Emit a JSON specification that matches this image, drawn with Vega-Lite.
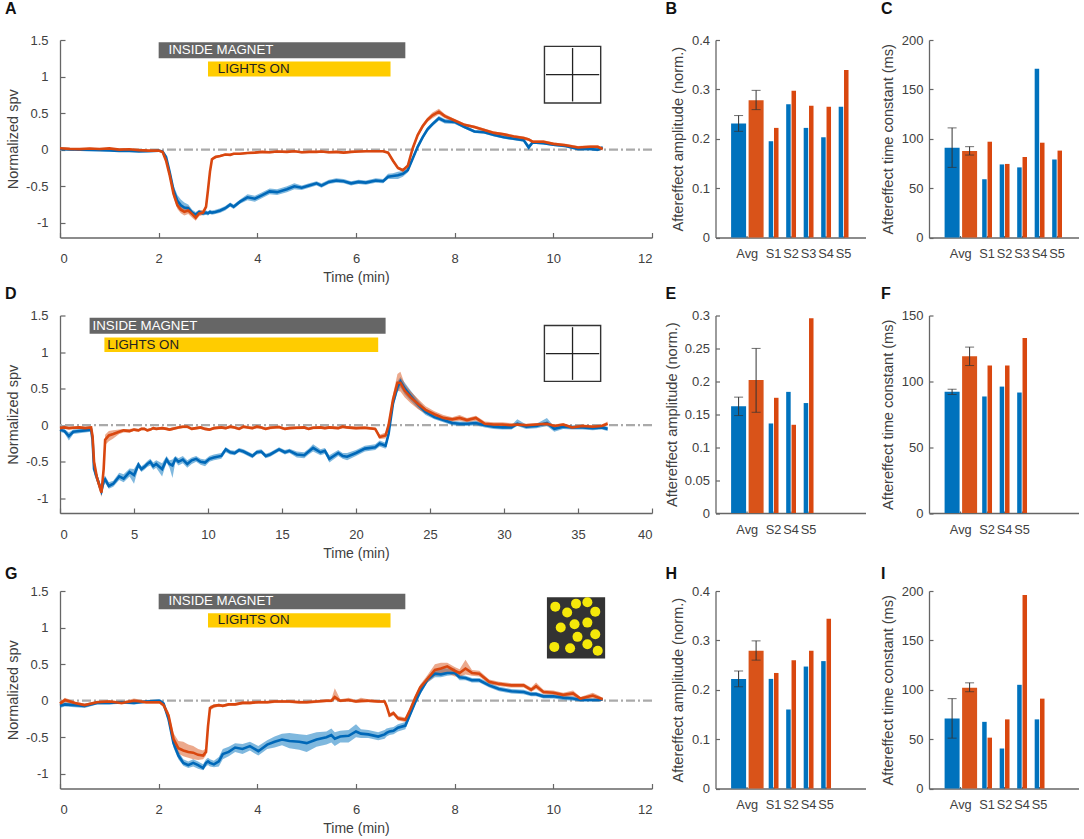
{"$schema":"https://vega.github.io/schema/vega-lite/v6.json","padding":{"left":5,"top":1,"right":0,"bottom":0},"bounds":"flush","columns":3,"spacing":{"row":77.5,"column":63.5},"config":{"font":"Liberation Sans","view":{"stroke":null},"axis":{"grid":false,"labelFont":"Liberation Sans","titleFont":"Liberation Sans","labelFontSize":13,"titleFontSize":14.5,"titleFontWeight":"normal","labelColor":"#404040","titleColor":"#404040","domainColor":"#666666","tickColor":"#666666","domainWidth":1.3,"tickWidth":1.2},"title":{"font":"Liberation Sans","fontWeight":"bold","fontSize":16,"anchor":"start","frame":"group","color":"#111111"}},
"datasets":{
"A":[{"t":0,"b":0.01,"bl":0,"bh":0.02,"r":0.02,"rl":0.01,"rh":0.03},{"t":0.2,"b":0.005,"bl":-0.005,"bh":0.015,"r":0.012,"rl":0.002,"rh":0.022},{"t":0.4,"b":0,"bl":-0.01,"bh":0.01,"r":0.008,"rl":-0.002,"rh":0.018},{"t":0.6,"b":-0.004,"bl":-0.014,"bh":0.006,"r":0.016,"rl":0.006,"rh":0.026},{"t":0.8,"b":-0.006,"bl":-0.016,"bh":0.004,"r":0.01,"rl":0,"rh":0.02},{"t":1,"b":-0.01,"bl":-0.02,"bh":0,"r":0.018,"rl":0.008,"rh":0.028},{"t":1.2,"b":-0.016,"bl":-0.026,"bh":-0.006,"r":0.001,"rl":-0.009,"rh":0.011},{"t":1.4,"b":-0.018,"bl":-0.028,"bh":-0.008,"r":0.006,"rl":-0.004,"rh":0.016},{"t":1.6,"b":-0.022,"bl":-0.032,"bh":-0.012,"r":-0.006,"rl":-0.016,"rh":0.004},{"t":1.8,"b":-0.02,"bl":-0.03,"bh":-0.01,"r":-0.012,"rl":-0.022,"rh":-0.002},{"t":2,"b":-0.012,"bl":-0.022,"bh":-0.002,"r":-0.01,"rl":-0.02,"rh":0},{"t":2.08,"b":-0.025,"bl":-0.04,"bh":-0.01,"r":-0.03,"rl":-0.045,"rh":-0.015},{"t":2.15,"b":-0.1,"bl":-0.13,"bh":-0.07,"r":-0.15,"rl":-0.18,"rh":-0.12},{"t":2.22,"b":-0.3,"bl":-0.35,"bh":-0.25,"r":-0.34,"rl":-0.38,"rh":-0.3},{"t":2.3,"b":-0.55,"bl":-0.61,"bh":-0.49,"r":-0.6,"rl":-0.65,"rh":-0.55},{"t":2.38,"b":-0.7,"bl":-0.77,"bh":-0.62,"r":-0.76,"rl":-0.81,"rh":-0.71},{"t":2.45,"b":-0.76,"bl":-0.83,"bh":-0.68,"r":-0.82,"rl":-0.87,"rh":-0.77},{"t":2.52,"b":-0.79,"bl":-0.85,"bh":-0.72,"r":-0.85,"rl":-0.9,"rh":-0.8},{"t":2.6,"b":-0.8,"bl":-0.85,"bh":-0.75,"r":-0.83,"rl":-0.88,"rh":-0.77},{"t":2.68,"b":-0.86,"bl":-0.9,"bh":-0.82,"r":-0.88,"rl":-0.93,"rh":-0.84},{"t":2.75,"b":-0.89,"bl":-0.92,"bh":-0.85,"r":-0.93,"rl":-0.97,"rh":-0.88},{"t":2.82,"b":-0.85,"bl":-0.88,"bh":-0.82,"r":-0.87,"rl":-0.91,"rh":-0.83},{"t":2.9,"b":-0.87,"bl":-0.9,"bh":-0.84,"r":-0.86,"rl":-0.89,"rh":-0.82},{"t":2.96,"b":-0.86,"bl":-0.89,"bh":-0.83,"r":-0.78,"rl":-0.81,"rh":-0.75},{"t":3,"b":-0.87,"bl":-0.9,"bh":-0.84,"r":-0.55,"rl":-0.58,"rh":-0.52},{"t":3.04,"b":-0.85,"bl":-0.88,"bh":-0.82,"r":-0.3,"rl":-0.33,"rh":-0.27},{"t":3.08,"b":-0.86,"bl":-0.89,"bh":-0.83,"r":-0.13,"rl":-0.15,"rh":-0.11},{"t":3.15,"b":-0.85,"bl":-0.88,"bh":-0.82,"r":-0.1,"rl":-0.12,"rh":-0.08},{"t":3.25,"b":-0.83,"bl":-0.86,"bh":-0.8,"r":-0.085,"rl":-0.1,"rh":-0.07},{"t":3.35,"b":-0.8,"bl":-0.83,"bh":-0.77,"r":-0.065,"rl":-0.08,"rh":-0.05},{"t":3.45,"b":-0.75,"bl":-0.78,"bh":-0.72,"r":-0.07,"rl":-0.085,"rh":-0.055},{"t":3.52,"b":-0.78,"bl":-0.81,"bh":-0.75,"r":-0.055,"rl":-0.07,"rh":-0.04},{"t":3.65,"b":-0.71,"bl":-0.74,"bh":-0.68,"r":-0.055,"rl":-0.07,"rh":-0.04},{"t":3.8,"b":-0.65,"bl":-0.69,"bh":-0.61,"r":-0.045,"rl":-0.06,"rh":-0.03},{"t":3.95,"b":-0.67,"bl":-0.71,"bh":-0.63,"r":-0.04,"rl":-0.055,"rh":-0.025},{"t":4.1,"b":-0.62,"bl":-0.66,"bh":-0.58,"r":-0.03,"rl":-0.045,"rh":-0.015},{"t":4.25,"b":-0.57,"bl":-0.61,"bh":-0.53,"r":-0.035,"rl":-0.05,"rh":-0.02},{"t":4.4,"b":-0.58,"bl":-0.62,"bh":-0.54,"r":-0.025,"rl":-0.04,"rh":-0.01},{"t":4.6,"b":-0.54,"bl":-0.58,"bh":-0.5,"r":-0.03,"rl":-0.045,"rh":-0.015},{"t":4.75,"b":-0.5,"bl":-0.54,"bh":-0.46,"r":-0.02,"rl":-0.035,"rh":-0.005},{"t":4.9,"b":-0.52,"bl":-0.55,"bh":-0.49,"r":-0.035,"rl":-0.05,"rh":-0.02},{"t":5.05,"b":-0.49,"bl":-0.52,"bh":-0.46,"r":-0.03,"rl":-0.045,"rh":-0.015},{"t":5.2,"b":-0.46,"bl":-0.49,"bh":-0.43,"r":-0.03,"rl":-0.045,"rh":-0.015},{"t":5.3,"b":-0.49,"bl":-0.52,"bh":-0.46,"r":-0.025,"rl":-0.04,"rh":-0.01},{"t":5.45,"b":-0.44,"bl":-0.47,"bh":-0.41,"r":-0.035,"rl":-0.05,"rh":-0.02},{"t":5.6,"b":-0.42,"bl":-0.45,"bh":-0.39,"r":-0.03,"rl":-0.045,"rh":-0.015},{"t":5.75,"b":-0.43,"bl":-0.46,"bh":-0.4,"r":-0.04,"rl":-0.055,"rh":-0.025},{"t":5.9,"b":-0.46,"bl":-0.49,"bh":-0.43,"r":-0.03,"rl":-0.045,"rh":-0.015},{"t":6.05,"b":-0.44,"bl":-0.47,"bh":-0.41,"r":-0.025,"rl":-0.04,"rh":-0.01},{"t":6.2,"b":-0.45,"bl":-0.48,"bh":-0.42,"r":-0.02,"rl":-0.035,"rh":-0.005},{"t":6.4,"b":-0.42,"bl":-0.45,"bh":-0.39,"r":-0.02,"rl":-0.035,"rh":-0.005},{"t":6.55,"b":-0.43,"bl":-0.46,"bh":-0.4,"r":-0.02,"rl":-0.035,"rh":-0.005},{"t":6.65,"b":-0.37,"bl":-0.4,"bh":-0.33,"r":-0.04,"rl":-0.055,"rh":-0.025},{"t":6.75,"b":-0.36,"bl":-0.4,"bh":-0.32,"r":-0.15,"rl":-0.17,"rh":-0.13},{"t":6.85,"b":-0.35,"bl":-0.4,"bh":-0.3,"r":-0.25,"rl":-0.27,"rh":-0.23},{"t":6.95,"b":-0.33,"bl":-0.37,"bh":-0.29,"r":-0.28,"rl":-0.3,"rh":-0.26},{"t":7.05,"b":-0.28,"bl":-0.31,"bh":-0.25,"r":-0.22,"rl":-0.24,"rh":-0.2},{"t":7.15,"b":-0.12,"bl":-0.15,"bh":-0.09,"r":0.02,"rl":-0.01,"rh":0.05},{"t":7.25,"b":0.04,"bl":0.01,"bh":0.07,"r":0.2,"rl":0.17,"rh":0.23},{"t":7.35,"b":0.17,"bl":0.14,"bh":0.2,"r":0.32,"rl":0.29,"rh":0.35},{"t":7.45,"b":0.28,"bl":0.25,"bh":0.31,"r":0.41,"rl":0.38,"rh":0.44},{"t":7.55,"b":0.35,"bl":0.32,"bh":0.38,"r":0.47,"rl":0.43,"rh":0.51},{"t":7.68,"b":0.43,"bl":0.4,"bh":0.46,"r":0.52,"rl":0.48,"rh":0.56},{"t":7.8,"b":0.39,"bl":0.36,"bh":0.42,"r":0.46,"rl":0.43,"rh":0.49},{"t":8,"b":0.38,"bl":0.35,"bh":0.41,"r":0.4,"rl":0.38,"rh":0.42},{"t":8.2,"b":0.31,"bl":0.29,"bh":0.33,"r":0.34,"rl":0.32,"rh":0.36},{"t":8.4,"b":0.25,"bl":0.23,"bh":0.27,"r":0.31,"rl":0.29,"rh":0.33},{"t":8.6,"b":0.24,"bl":0.22,"bh":0.26,"r":0.27,"rl":0.25,"rh":0.29},{"t":8.8,"b":0.2,"bl":0.18,"bh":0.22,"r":0.23,"rl":0.21,"rh":0.25},{"t":9,"b":0.17,"bl":0.15,"bh":0.19,"r":0.21,"rl":0.19,"rh":0.23},{"t":9.2,"b":0.15,"bl":0.13,"bh":0.17,"r":0.18,"rl":0.16,"rh":0.2},{"t":9.4,"b":0.13,"bl":0.11,"bh":0.15,"r":0.16,"rl":0.14,"rh":0.18},{"t":9.5,"b":0.03,"bl":0,"bh":0.07,"r":0.14,"rl":0.12,"rh":0.16},{"t":9.58,"b":0.1,"bl":0.08,"bh":0.12,"r":0.11,"rl":0.09,"rh":0.13},{"t":9.8,"b":0.09,"bl":0.07,"bh":0.11,"r":0.11,"rl":0.09,"rh":0.13},{"t":10,"b":0.07,"bl":0.05,"bh":0.09,"r":0.08,"rl":0.06,"rh":0.1},{"t":10.25,"b":0.05,"bl":0.03,"bh":0.07,"r":0.06,"rl":0.04,"rh":0.08},{"t":10.5,"b":0.01,"bl":-0.01,"bh":0.03,"r":0.03,"rl":0.01,"rh":0.05},{"t":10.75,"b":0.01,"bl":-0.01,"bh":0.03,"r":0.04,"rl":0.02,"rh":0.06},{"t":10.9,"b":0.0,"bl":-0.02,"bh":0.02,"r":0.04,"rl":0.02,"rh":0.06},{"t":11,"b":0.03,"bl":0.01,"bh":0.05,"r":0.01,"rl":-0.01,"rh":0.03}],
"D":[{"t":0,"b":-0.06,"bl":-0.09,"bh":-0.03,"r":-0.04,"rl":-0.06,"rh":-0.02},{"t":0.3,"b":-0.08,"bl":-0.11,"bh":-0.05,"r":-0.03,"rl":-0.05,"rh":-0.01},{"t":0.6,"b":-0.15,"bl":-0.21,"bh":-0.1,"r":-0.04,"rl":-0.06,"rh":-0.02},{"t":0.9,"b":-0.09,"bl":-0.12,"bh":-0.06,"r":-0.035,"rl":-0.055,"rh":-0.015},{"t":1.3,"b":-0.08,"bl":-0.11,"bh":-0.05,"r":-0.03,"rl":-0.05,"rh":-0.01},{"t":1.7,"b":-0.07,"bl":-0.1,"bh":-0.04,"r":-0.04,"rl":-0.06,"rh":-0.02},{"t":2.1,"b":-0.06,"bl":-0.09,"bh":-0.03,"r":-0.03,"rl":-0.05,"rh":-0.01},{"t":2.2,"b":-0.2,"bl":-0.26,"bh":-0.14,"r":-0.15,"rl":-0.2,"rh":-0.1},{"t":2.3,"b":-0.6,"bl":-0.67,"bh":-0.53,"r":-0.5,"rl":-0.56,"rh":-0.44},{"t":2.5,"b":-0.72,"bl":-0.78,"bh":-0.66,"r":-0.72,"rl":-0.78,"rh":-0.66},{"t":2.8,"b":-0.9,"bl":-0.95,"bh":-0.84,"r":-0.92,"rl":-0.98,"rh":-0.85},{"t":2.95,"b":-0.77,"bl":-0.83,"bh":-0.71,"r":-0.6,"rl":-0.7,"rh":-0.5},{"t":3.05,"b":-0.74,"bl":-0.79,"bh":-0.69,"r":-0.2,"rl":-0.27,"rh":-0.13},{"t":3.3,"b":-0.83,"bl":-0.87,"bh":-0.78,"r":-0.14,"rl":-0.22,"rh":-0.08},{"t":3.6,"b":-0.8,"bl":-0.84,"bh":-0.76,"r":-0.12,"rl":-0.18,"rh":-0.07},{"t":4,"b":-0.7,"bl":-0.75,"bh":-0.65,"r":-0.09,"rl":-0.12,"rh":-0.06},{"t":4.3,"b":-0.73,"bl":-0.78,"bh":-0.67,"r":-0.07,"rl":-0.1,"rh":-0.05},{"t":4.7,"b":-0.64,"bl":-0.7,"bh":-0.59,"r":-0.08,"rl":-0.1,"rh":-0.05},{"t":5,"b":-0.68,"bl":-0.8,"bh":-0.6,"r":-0.06,"rl":-0.08,"rh":-0.04},{"t":5.3,"b":-0.54,"bl":-0.58,"bh":-0.5,"r":-0.07,"rl":-0.09,"rh":-0.05},{"t":5.5,"b":-0.6,"bl":-0.64,"bh":-0.56,"r":-0.05,"rl":-0.07,"rh":-0.03},{"t":5.7,"b":-0.57,"bl":-0.61,"bh":-0.53,"r":-0.05,"rl":-0.07,"rh":-0.03},{"t":5.9,"b":-0.53,"bl":-0.57,"bh":-0.49,"r":-0.07,"rl":-0.09,"rh":-0.05},{"t":6.1,"b":-0.5,"bl":-0.55,"bh":-0.46,"r":-0.06,"rl":-0.08,"rh":-0.04},{"t":6.3,"b":-0.56,"bl":-0.61,"bh":-0.51,"r":-0.04,"rl":-0.06,"rh":-0.02},{"t":6.5,"b":-0.53,"bl":-0.58,"bh":-0.48,"r":-0.05,"rl":-0.07,"rh":-0.03},{"t":6.9,"b":-0.6,"bl":-0.7,"bh":-0.52,"r":-0.04,"rl":-0.06,"rh":-0.02},{"t":7.2,"b":-0.47,"bl":-0.51,"bh":-0.42,"r":-0.05,"rl":-0.07,"rh":-0.03},{"t":7.4,"b":-0.53,"bl":-0.58,"bh":-0.48,"r":-0.06,"rl":-0.08,"rh":-0.04},{"t":7.6,"b":-0.55,"bl":-0.72,"bh":-0.47,"r":-0.05,"rl":-0.07,"rh":-0.03},{"t":7.8,"b":-0.46,"bl":-0.5,"bh":-0.42,"r":-0.04,"rl":-0.06,"rh":-0.02},{"t":8,"b":-0.5,"bl":-0.55,"bh":-0.45,"r":-0.03,"rl":-0.05,"rh":-0.01},{"t":8.3,"b":-0.47,"bl":-0.52,"bh":-0.42,"r":-0.02,"rl":-0.04,"rh":0},{"t":8.6,"b":-0.53,"bl":-0.58,"bh":-0.48,"r":-0.02,"rl":-0.04,"rh":0},{"t":8.9,"b":-0.48,"bl":-0.53,"bh":-0.44,"r":-0.05,"rl":-0.07,"rh":-0.03},{"t":9.2,"b":-0.46,"bl":-0.5,"bh":-0.42,"r":-0.04,"rl":-0.06,"rh":-0.02},{"t":9.5,"b":-0.5,"bl":-0.54,"bh":-0.46,"r":-0.03,"rl":-0.05,"rh":-0.01},{"t":9.8,"b":-0.51,"bl":-0.56,"bh":-0.47,"r":-0.05,"rl":-0.07,"rh":-0.03},{"t":10.1,"b":-0.46,"bl":-0.5,"bh":-0.42,"r":-0.06,"rl":-0.08,"rh":-0.04},{"t":10.4,"b":-0.44,"bl":-0.48,"bh":-0.4,"r":-0.04,"rl":-0.06,"rh":-0.02},{"t":10.9,"b":-0.42,"bl":-0.46,"bh":-0.38,"r":-0.03,"rl":-0.05,"rh":-0.01},{"t":11.2,"b":-0.33,"bl":-0.37,"bh":-0.3,"r":-0.04,"rl":-0.06,"rh":-0.02},{"t":11.5,"b":-0.37,"bl":-0.4,"bh":-0.34,"r":-0.02,"rl":-0.04,"rh":0},{"t":11.8,"b":-0.38,"bl":-0.41,"bh":-0.35,"r":-0.03,"rl":-0.05,"rh":-0.01},{"t":12.1,"b":-0.34,"bl":-0.37,"bh":-0.31,"r":-0.05,"rl":-0.07,"rh":-0.03},{"t":12.4,"b":-0.36,"bl":-0.39,"bh":-0.33,"r":-0.02,"rl":-0.04,"rh":0},{"t":12.7,"b":-0.39,"bl":-0.42,"bh":-0.36,"r":-0.03,"rl":-0.05,"rh":-0.01},{"t":13,"b":-0.42,"bl":-0.45,"bh":-0.39,"r":-0.04,"rl":-0.06,"rh":-0.02},{"t":13.3,"b":-0.37,"bl":-0.4,"bh":-0.34,"r":-0.02,"rl":-0.04,"rh":0},{"t":13.6,"b":-0.36,"bl":-0.39,"bh":-0.33,"r":-0.03,"rl":-0.05,"rh":-0.01},{"t":13.9,"b":-0.42,"bl":-0.45,"bh":-0.39,"r":-0.05,"rl":-0.07,"rh":-0.03},{"t":14.2,"b":-0.4,"bl":-0.43,"bh":-0.37,"r":-0.035,"rl":-0.055,"rh":-0.015},{"t":14.8,"b":-0.33,"bl":-0.36,"bh":-0.3,"r":-0.025,"rl":-0.045,"rh":-0.005},{"t":15.2,"b":-0.37,"bl":-0.4,"bh":-0.34,"r":-0.05,"rl":-0.07,"rh":-0.03},{"t":15.5,"b":-0.35,"bl":-0.38,"bh":-0.32,"r":-0.04,"rl":-0.06,"rh":-0.02},{"t":16,"b":-0.4,"bl":-0.44,"bh":-0.36,"r":-0.035,"rl":-0.055,"rh":-0.015},{"t":16.5,"b":-0.41,"bl":-0.45,"bh":-0.37,"r":-0.03,"rl":-0.05,"rh":-0.01},{"t":16.8,"b":-0.36,"bl":-0.4,"bh":-0.32,"r":-0.05,"rl":-0.07,"rh":-0.03},{"t":17.1,"b":-0.31,"bl":-0.36,"bh":-0.26,"r":-0.035,"rl":-0.055,"rh":-0.015},{"t":17.6,"b":-0.37,"bl":-0.41,"bh":-0.33,"r":-0.03,"rl":-0.05,"rh":-0.01},{"t":17.9,"b":-0.35,"bl":-0.39,"bh":-0.31,"r":-0.04,"rl":-0.06,"rh":-0.02},{"t":18.2,"b":-0.46,"bl":-0.51,"bh":-0.41,"r":-0.03,"rl":-0.05,"rh":-0.01},{"t":18.8,"b":-0.38,"bl":-0.42,"bh":-0.34,"r":-0.04,"rl":-0.06,"rh":-0.02},{"t":19.1,"b":-0.42,"bl":-0.46,"bh":-0.38,"r":-0.02,"rl":-0.04,"rh":0},{"t":19.4,"b":-0.43,"bl":-0.48,"bh":-0.38,"r":-0.03,"rl":-0.05,"rh":-0.01},{"t":20,"b":-0.38,"bl":-0.42,"bh":-0.34,"r":-0.04,"rl":-0.06,"rh":-0.02},{"t":20.6,"b":-0.32,"bl":-0.36,"bh":-0.28,"r":-0.035,"rl":-0.055,"rh":-0.015},{"t":21.3,"b":-0.3,"bl":-0.34,"bh":-0.26,"r":-0.05,"rl":-0.07,"rh":-0.03},{"t":21.6,"b":-0.25,"bl":-0.29,"bh":-0.21,"r":-0.16,"rl":-0.19,"rh":-0.13},{"t":22,"b":-0.28,"bl":-0.32,"bh":-0.24,"r":-0.14,"rl":-0.18,"rh":-0.1},{"t":22.2,"b":-0.12,"bl":-0.17,"bh":-0.07,"r":0.0,"rl":-0.05,"rh":0.05},{"t":22.5,"b":0.3,"bl":0.24,"bh":0.36,"r":0.35,"rl":0.28,"rh":0.42},{"t":22.8,"b":0.52,"bl":0.45,"bh":0.6,"r":0.58,"rl":0.47,"rh":0.7},{"t":23,"b":0.6,"bl":0.52,"bh":0.66,"r":0.58,"rl":0.46,"rh":0.73},{"t":23.3,"b":0.5,"bl":0.42,"bh":0.58,"r":0.47,"rl":0.38,"rh":0.56},{"t":23.7,"b":0.4,"bl":0.33,"bh":0.47,"r":0.38,"rl":0.3,"rh":0.46},{"t":24.2,"b":0.28,"bl":0.23,"bh":0.34,"r":0.29,"rl":0.22,"rh":0.36},{"t":24.7,"b":0.18,"bl":0.14,"bh":0.23,"r":0.21,"rl":0.16,"rh":0.26},{"t":25.3,"b":0.11,"bl":0.08,"bh":0.14,"r":0.15,"rl":0.11,"rh":0.19},{"t":25.9,"b":0.07,"bl":0.04,"bh":0.1,"r":0.1,"rl":0.07,"rh":0.14},{"t":26.5,"b":0.03,"bl":0,"bh":0.06,"r":0.08,"rl":0.05,"rh":0.11},{"t":27,"b":0.02,"bl":-0.01,"bh":0.05,"r":0.1,"rl":0.06,"rh":0.14},{"t":27.5,"b":0.02,"bl":-0.01,"bh":0.05,"r":0.07,"rl":0.04,"rh":0.1},{"t":28.1,"b":0.03,"bl":0,"bh":0.06,"r":0.1,"rl":0.06,"rh":0.13},{"t":28.7,"b":0,"bl":-0.03,"bh":0.03,"r":0.02,"rl":-0.01,"rh":0.05},{"t":29.3,"b":-0.02,"bl":-0.05,"bh":0.01,"r":0.01,"rl":-0.02,"rh":0.04},{"t":29.9,"b":-0.03,"bl":-0.06,"bh":0,"r":0.01,"rl":-0.02,"rh":0.04},{"t":30.5,"b":-0.03,"bl":-0.06,"bh":0,"r":0,"rl":-0.02,"rh":0.03},{"t":30.9,"b":0.02,"bl":-0.01,"bh":0.08,"r":0.01,"rl":-0.01,"rh":0.03},{"t":31.5,"b":-0.02,"bl":-0.05,"bh":0.01,"r":0,"rl":-0.02,"rh":0.02},{"t":32.2,"b":-0.01,"bl":-0.04,"bh":0.02,"r":0.01,"rl":-0.01,"rh":0.03},{"t":32.9,"b":0.03,"bl":-0.01,"bh":0.1,"r":0.02,"rl":0,"rh":0.04},{"t":33.4,"b":-0.05,"bl":-0.09,"bh":-0.02,"r":-0.01,"rl":-0.03,"rh":0.01},{"t":34,"b":-0.02,"bl":-0.05,"bh":0.01,"r":0.01,"rl":-0.01,"rh":0.03},{"t":34.6,"b":-0.03,"bl":-0.06,"bh":0,"r":-0.03,"rl":-0.05,"rh":-0.01},{"t":35.3,"b":-0.03,"bl":-0.06,"bh":0,"r":-0.01,"rl":-0.03,"rh":0.01},{"t":36,"b":-0.04,"bl":-0.07,"bh":-0.01,"r":-0.02,"rl":-0.04,"rh":0},{"t":36.6,"b":-0.03,"bl":-0.06,"bh":0,"r":-0.01,"rl":-0.03,"rh":0.01},{"t":37,"b":-0.05,"bl":-0.08,"bh":-0.02,"r":0.02,"rl":0,"rh":0.05}],
"G":[{"t":0,"b":-0.07,"bl":-0.1,"bh":-0.04,"r":-0.04,"rl":-0.07,"rh":-0.01},{"t":0.1,"b":-0.05,"bl":-0.08,"bh":-0.02,"r":0.01,"rl":-0.02,"rh":0.04},{"t":0.3,"b":-0.06,"bl":-0.09,"bh":-0.03,"r":-0.03,"rl":-0.05,"rh":-0.01},{"t":0.5,"b":-0.07,"bl":-0.1,"bh":-0.04,"r":-0.06,"rl":-0.08,"rh":-0.04},{"t":0.75,"b":-0.03,"bl":-0.05,"bh":-0.01,"r":-0.02,"rl":-0.04,"rh":0},{"t":1,"b":-0.03,"bl":-0.05,"bh":-0.01,"r":-0.01,"rl":-0.03,"rh":0.01},{"t":1.25,"b":-0.02,"bl":-0.04,"bh":0,"r":-0.03,"rl":-0.05,"rh":-0.01},{"t":1.5,"b":-0.03,"bl":-0.05,"bh":-0.01,"r":0,"rl":-0.02,"rh":0.03},{"t":1.75,"b":-0.01,"bl":-0.03,"bh":0.01,"r":-0.02,"rl":-0.04,"rh":0},{"t":2.02,"b":0,"bl":-0.02,"bh":0.02,"r":-0.02,"rl":-0.04,"rh":0},{"t":2.1,"b":-0.04,"bl":-0.07,"bh":-0.01,"r":-0.06,"rl":-0.09,"rh":-0.03},{"t":2.2,"b":-0.25,"bl":-0.3,"bh":-0.2,"r":-0.2,"rl":-0.25,"rh":-0.15},{"t":2.3,"b":-0.58,"bl":-0.64,"bh":-0.52,"r":-0.52,"rl":-0.6,"rh":-0.44},{"t":2.4,"b":-0.75,"bl":-0.8,"bh":-0.69,"r":-0.65,"rl":-0.72,"rh":-0.55},{"t":2.5,"b":-0.85,"bl":-0.89,"bh":-0.8,"r":-0.68,"rl":-0.76,"rh":-0.56},{"t":2.6,"b":-0.88,"bl":-0.92,"bh":-0.83,"r":-0.7,"rl":-0.78,"rh":-0.6},{"t":2.7,"b":-0.85,"bl":-0.9,"bh":-0.8,"r":-0.71,"rl":-0.8,"rh":-0.62},{"t":2.8,"b":-0.88,"bl":-0.93,"bh":-0.83,"r":-0.74,"rl":-0.81,"rh":-0.66},{"t":2.9,"b":-0.92,"bl":-0.95,"bh":-0.87,"r":-0.75,"rl":-0.8,"rh":-0.68},{"t":2.96,"b":-0.85,"bl":-0.9,"bh":-0.8,"r":-0.7,"rl":-0.75,"rh":-0.65},{"t":3,"b":-0.83,"bl":-0.88,"bh":-0.78,"r":-0.35,"rl":-0.38,"rh":-0.32},{"t":3.04,"b":-0.85,"bl":-0.9,"bh":-0.8,"r":-0.1,"rl":-0.13,"rh":-0.07},{"t":3.12,"b":-0.87,"bl":-0.91,"bh":-0.82,"r":-0.07,"rl":-0.1,"rh":-0.05},{"t":3.22,"b":-0.83,"bl":-0.9,"bh":-0.77,"r":-0.06,"rl":-0.08,"rh":-0.04},{"t":3.3,"b":-0.73,"bl":-0.8,"bh":-0.66,"r":-0.07,"rl":-0.09,"rh":-0.05},{"t":3.42,"b":-0.7,"bl":-0.76,"bh":-0.63,"r":-0.05,"rl":-0.07,"rh":-0.03},{"t":3.55,"b":-0.64,"bl":-0.7,"bh":-0.58,"r":-0.05,"rl":-0.07,"rh":-0.03},{"t":3.7,"b":-0.66,"bl":-0.73,"bh":-0.59,"r":-0.03,"rl":-0.05,"rh":-0.01},{"t":3.85,"b":-0.62,"bl":-0.68,"bh":-0.56,"r":-0.03,"rl":-0.05,"rh":-0.01},{"t":4.02,"b":-0.69,"bl":-0.75,"bh":-0.62,"r":-0.02,"rl":-0.04,"rh":0},{"t":4.2,"b":-0.6,"bl":-0.66,"bh":-0.54,"r":-0.02,"rl":-0.04,"rh":0},{"t":4.35,"b":-0.56,"bl":-0.64,"bh":-0.49,"r":-0.01,"rl":-0.03,"rh":0.01},{"t":4.5,"b":-0.53,"bl":-0.61,"bh":-0.45,"r":-0.01,"rl":-0.03,"rh":0.01},{"t":4.65,"b":-0.55,"bl":-0.65,"bh":-0.44,"r":-0.01,"rl":-0.03,"rh":0.01},{"t":4.85,"b":-0.56,"bl":-0.67,"bh":-0.46,"r":-0.02,"rl":-0.04,"rh":0},{"t":5,"b":-0.58,"bl":-0.7,"bh":-0.47,"r":-0.02,"rl":-0.04,"rh":0},{"t":5.2,"b":-0.53,"bl":-0.63,"bh":-0.43,"r":-0.01,"rl":-0.03,"rh":0.01},{"t":5.4,"b":-0.5,"bl":-0.6,"bh":-0.42,"r":0,"rl":-0.02,"rh":0.02},{"t":5.5,"b":-0.47,"bl":-0.57,"bh":-0.38,"r":0,"rl":-0.02,"rh":0.02},{"t":5.57,"b":-0.52,"bl":-0.62,"bh":-0.43,"r":0.05,"rl":0.01,"rh":0.17},{"t":5.68,"b":-0.49,"bl":-0.57,"bh":-0.41,"r":0,"rl":-0.02,"rh":0.02},{"t":5.85,"b":-0.48,"bl":-0.57,"bh":-0.4,"r":0.01,"rl":-0.01,"rh":0.04},{"t":6,"b":-0.42,"bl":-0.5,"bh":-0.32,"r":-0.01,"rl":-0.03,"rh":0.01},{"t":6.1,"b":-0.45,"bl":-0.51,"bh":-0.39,"r":0,"rl":-0.03,"rh":0.04},{"t":6.25,"b":-0.46,"bl":-0.51,"bh":-0.4,"r":0,"rl":-0.02,"rh":0.02},{"t":6.45,"b":-0.49,"bl":-0.54,"bh":-0.43,"r":-0.01,"rl":-0.03,"rh":0.01},{"t":6.58,"b":-0.46,"bl":-0.52,"bh":-0.4,"r":-0.01,"rl":-0.03,"rh":0.01},{"t":6.62,"b":-0.44,"bl":-0.49,"bh":-0.38,"r":-0.07,"rl":-0.1,"rh":-0.04},{"t":6.68,"b":-0.42,"bl":-0.47,"bh":-0.37,"r":-0.2,"rl":-0.23,"rh":-0.17},{"t":6.76,"b":-0.41,"bl":-0.46,"bh":-0.36,"r":-0.17,"rl":-0.2,"rh":-0.14},{"t":6.85,"b":-0.37,"bl":-0.42,"bh":-0.32,"r":-0.24,"rl":-0.27,"rh":-0.21},{"t":7,"b":-0.34,"bl":-0.39,"bh":-0.29,"r":-0.26,"rl":-0.29,"rh":-0.23},{"t":7.1,"b":-0.18,"bl":-0.22,"bh":-0.14,"r":-0.12,"rl":-0.15,"rh":-0.09},{"t":7.2,"b":-0.02,"bl":-0.06,"bh":0.02,"r":0.04,"rl":0.01,"rh":0.07},{"t":7.3,"b":0.12,"bl":0.08,"bh":0.16,"r":0.18,"rl":0.14,"rh":0.22},{"t":7.45,"b":0.29,"bl":0.25,"bh":0.33,"r":0.3,"rl":0.25,"rh":0.35},{"t":7.6,"b":0.37,"bl":0.32,"bh":0.41,"r":0.42,"rl":0.34,"rh":0.5},{"t":7.72,"b":0.36,"bl":0.32,"bh":0.45,"r":0.44,"rl":0.35,"rh":0.52},{"t":7.85,"b":0.38,"bl":0.34,"bh":0.44,"r":0.47,"rl":0.38,"rh":0.52},{"t":8,"b":0.38,"bl":0.35,"bh":0.44,"r":0.41,"rl":0.33,"rh":0.46},{"t":8.1,"b":0.32,"bl":0.28,"bh":0.36,"r":0.38,"rl":0.33,"rh":0.43},{"t":8.22,"b":0.31,"bl":0.28,"bh":0.34,"r":0.44,"rl":0.36,"rh":0.56},{"t":8.35,"b":0.28,"bl":0.25,"bh":0.31,"r":0.38,"rl":0.34,"rh":0.42},{"t":8.5,"b":0.28,"bl":0.25,"bh":0.31,"r":0.37,"rl":0.33,"rh":0.41},{"t":8.7,"b":0.21,"bl":0.18,"bh":0.25,"r":0.26,"rl":0.23,"rh":0.29},{"t":8.9,"b":0.16,"bl":0.13,"bh":0.19,"r":0.23,"rl":0.2,"rh":0.26},{"t":9.15,"b":0.13,"bl":0.1,"bh":0.16,"r":0.21,"rl":0.18,"rh":0.24},{"t":9.4,"b":0.12,"bl":0.09,"bh":0.15,"r":0.21,"rl":0.18,"rh":0.24},{"t":9.55,"b":0.09,"bl":0.06,"bh":0.12,"r":0.15,"rl":0.12,"rh":0.18},{"t":9.65,"b":0.09,"bl":0.06,"bh":0.12,"r":0.2,"rl":0.16,"rh":0.25},{"t":9.8,"b":0.06,"bl":0.03,"bh":0.09,"r":0.12,"rl":0.09,"rh":0.15},{"t":10,"b":0.06,"bl":0.03,"bh":0.09,"r":0.11,"rl":0.08,"rh":0.14},{"t":10.2,"b":0.04,"bl":0.01,"bh":0.07,"r":0.08,"rl":0.05,"rh":0.11},{"t":10.4,"b":0.03,"bl":0.0,"bh":0.06,"r":0.1,"rl":0.06,"rh":0.14},{"t":10.55,"b":0.01,"bl":-0.01,"bh":0.03,"r":0.03,"rl":0.01,"rh":0.05},{"t":10.8,"b":0.01,"bl":-0.01,"bh":0.03,"r":0.07,"rl":0.03,"rh":0.11},{"t":10.92,"b":0.01,"bl":-0.01,"bh":0.03,"r":0.04,"rl":0.01,"rh":0.07},{"t":11,"b":0.02,"bl":0,"bh":0.04,"r":0.02,"rl":0,"rh":0.04}],
"dots":[{"x":10.04,"y":1.286},{"x":10.28,"y":1.205},{"x":10.46,"y":1.327},{"x":10.69,"y":1.345},{"x":10.85,"y":1.218},{"x":10.15,"y":1.0},{"x":10.43,"y":1.045},{"x":10.69,"y":1.068},{"x":10.49,"y":0.873},{"x":10.85,"y":0.909},{"x":10.02,"y":0.736},{"x":10.34,"y":0.718},{"x":10.69,"y":0.773},{"x":10.9,"y":0.682}],
"B":[{"slot":1,"subject":"Avg","series":"blue","v":0.231,"lo":0.215,"hi":0.247},{"slot":2,"subject":"Avg","series":"orange","v":0.278,"lo":0.259,"hi":0.298},{"slot":3,"subject":"S1","series":"blue","v":0.195},{"slot":3,"subject":"S1","series":"orange","v":0.222},{"slot":4,"subject":"S2","series":"blue","v":0.27},{"slot":4,"subject":"S2","series":"orange","v":0.297},{"slot":5,"subject":"S3","series":"blue","v":0.222},{"slot":5,"subject":"S3","series":"orange","v":0.267},{"slot":6,"subject":"S4","series":"blue","v":0.203},{"slot":6,"subject":"S4","series":"orange","v":0.265},{"slot":7,"subject":"S5","series":"blue","v":0.265},{"slot":7,"subject":"S5","series":"orange","v":0.339}],
"C":[{"slot":1,"subject":"Avg","series":"blue","v":91,"lo":71,"hi":111},{"slot":2,"subject":"Avg","series":"orange","v":87.5,"lo":83.5,"hi":92},{"slot":3,"subject":"S1","series":"blue","v":59},{"slot":3,"subject":"S1","series":"orange","v":97},{"slot":4,"subject":"S2","series":"blue","v":74},{"slot":4,"subject":"S2","series":"orange","v":74.5},{"slot":5,"subject":"S3","series":"blue","v":71},{"slot":5,"subject":"S3","series":"orange","v":81.5},{"slot":6,"subject":"S4","series":"blue","v":171},{"slot":6,"subject":"S4","series":"orange","v":96},{"slot":7,"subject":"S5","series":"blue","v":79},{"slot":7,"subject":"S5","series":"orange","v":88}],
"E":[{"slot":1,"subject":"Avg","series":"blue","v":0.162,"lo":0.148,"hi":0.176},{"slot":2,"subject":"Avg","series":"orange","v":0.202,"lo":0.153,"hi":0.25},{"slot":3,"subject":"S2","series":"blue","v":0.136},{"slot":3,"subject":"S2","series":"orange","v":0.175},{"slot":4,"subject":"S4","series":"blue","v":0.184},{"slot":4,"subject":"S4","series":"orange","v":0.134},{"slot":5,"subject":"S5","series":"blue","v":0.167},{"slot":5,"subject":"S5","series":"orange","v":0.296}],
"F":[{"slot":1,"subject":"Avg","series":"blue","v":92,"lo":90,"hi":94},{"slot":2,"subject":"Avg","series":"orange","v":119,"lo":112,"hi":126},{"slot":3,"subject":"S2","series":"blue","v":88.5},{"slot":3,"subject":"S2","series":"orange","v":112},{"slot":4,"subject":"S4","series":"blue","v":96},{"slot":4,"subject":"S4","series":"orange","v":112},{"slot":5,"subject":"S5","series":"blue","v":91.5},{"slot":5,"subject":"S5","series":"orange","v":133}],
"H":[{"slot":1,"subject":"Avg","series":"blue","v":0.222,"lo":0.206,"hi":0.238},{"slot":2,"subject":"Avg","series":"orange","v":0.279,"lo":0.26,"hi":0.299},{"slot":3,"subject":"S1","series":"blue","v":0.222},{"slot":3,"subject":"S1","series":"orange","v":0.234},{"slot":4,"subject":"S2","series":"blue","v":0.16},{"slot":4,"subject":"S2","series":"orange","v":0.26},{"slot":5,"subject":"S4","series":"blue","v":0.247},{"slot":5,"subject":"S4","series":"orange","v":0.279},{"slot":6,"subject":"S5","series":"blue","v":0.258},{"slot":6,"subject":"S5","series":"orange","v":0.344}],
"I":[{"slot":1,"subject":"Avg","series":"blue","v":71,"lo":51,"hi":91},{"slot":2,"subject":"Avg","series":"orange","v":102,"lo":98,"hi":107},{"slot":3,"subject":"S1","series":"blue","v":67.5},{"slot":3,"subject":"S1","series":"orange","v":51.5},{"slot":4,"subject":"S2","series":"blue","v":40.5},{"slot":4,"subject":"S2","series":"orange","v":70},{"slot":5,"subject":"S4","series":"blue","v":105},{"slot":5,"subject":"S4","series":"orange","v":196},{"slot":6,"subject":"S5","series":"blue","v":70},{"slot":6,"subject":"S5","series":"orange","v":91}]
},
"concat":[
{"title":{"text":"A","dx":-55,"offset":17},"width":592,"height":197.5,"layer":[
{"data":{"values":[{"y":0}]},"mark":{"type":"rule","color":"#AAAAAA","strokeWidth":2.2,"strokeDash":[9,3,2,3]},"encoding":{"y":{"field":"y","type":"quantitative","title":"Normalized spv","scale":{"domain":[-1.2,1.5],"nice":false,"zero":false},"axis":{"values":[-1,-0.5,0,0.5,1,1.5],"tickCount":20,"labelOverlap":false,"labelExpr":"''+datum.value","tickSize":-5,"labelPadding":17,"titleX":-40}}}},
{"data":{"name":"A"},"mark":{"type":"area","color":"#0072BD","opacity":0.5},"encoding":{"x":{"field":"t","type":"quantitative","title":"Time (min)","scale":{"domain":[0,12],"nice":false},"axis":{"values":[0,2,4,6,8,10,12],"tickCount":20,"labelOverlap":false,"labelExpr":"''+datum.value","tickSize":-5,"labelPadding":20,"titleY":33,"titleFontSize":14}},"y":{"field":"bl","type":"quantitative"},"y2":{"field":"bh"}}},
{"data":{"name":"A"},"mark":{"type":"area","color":"#D95319","opacity":0.5},"encoding":{"x":{"field":"t","type":"quantitative"},"y":{"field":"rl","type":"quantitative"},"y2":{"field":"rh"}}},
{"data":{"name":"A"},"mark":{"type":"line","color":"#0068B8","strokeWidth":2.6},"encoding":{"x":{"field":"t","type":"quantitative"},"y":{"field":"b","type":"quantitative"}}},
{"data":{"name":"A"},"mark":{"type":"line","color":"#D9470F","strokeWidth":2.6},"encoding":{"x":{"field":"t","type":"quantitative"},"y":{"field":"r","type":"quantitative"}}},
{"data":{"values":[{"label":"INSIDE MAGNET","x":2,"x2":7,"y":1.47,"y2":1.25},{"label":"LIGHTS ON","x":3,"x2":6.7,"y":1.206,"y2":1.0}]},"mark":{"type":"rect"},"encoding":{"x":{"field":"x","type":"quantitative"},"x2":{"field":"x2"},"y":{"field":"y","type":"quantitative"},"y2":{"field":"y2"},"color":{"condition":{"test":"datum.label=='LIGHTS ON'","value":"#FFCC00"},"value":"#666666"}}},
{"data":{"values":[{"label":"INSIDE MAGNET","tx":2.2,"ty":1.36},{"label":"LIGHTS ON","tx":3.2,"ty":1.1}]},"mark":{"type":"text","align":"left","baseline":"middle","fontSize":13.3,"font":"Liberation Sans"},"encoding":{"x":{"field":"tx","type":"quantitative"},"y":{"field":"ty","type":"quantitative"},"text":{"field":"label"},"color":{"condition":{"test":"datum.label=='LIGHTS ON'","value":"#222222"},"value":"#FFFFFF"}}},
{"data":{"values":[{"x":9.82,"x2":10.96,"y":1.413,"y2":0.638}]},"mark":{"type":"rect","fill":"#FFFFFF","stroke":"#333333","strokeWidth":1.4},"encoding":{"x":{"field":"x","type":"quantitative"},"x2":{"field":"x2"},"y":{"field":"y","type":"quantitative"},"y2":{"field":"y2"}}},
{"data":{"values":[{"x":9.85,"x2":10.93,"y":1.027}]},"mark":{"type":"rule","color":"#222222","strokeWidth":1.3},"encoding":{"x":{"field":"x","type":"quantitative"},"x2":{"field":"x2"},"y":{"field":"y","type":"quantitative"}}},
{"data":{"values":[{"x":10.39,"y":1.39,"y2":0.66}]},"mark":{"type":"rule","color":"#222222","strokeWidth":1.3},"encoding":{"x":{"field":"x","type":"quantitative"},"y":{"field":"y","type":"quantitative"},"y2":{"field":"y2"}}}
]},
{"title":{"text":"B","dx":-50,"offset":17},"width":150,"height":197.5,"data":{"name":"B"},"layer":[
{"transform":[{"filter":"datum.subject=='Avg'"}],"mark":{"type":"bar","size":15,"xOffset":0.6},"encoding":{"x":{"field":"slot","type":"quantitative","title":null,"scale":{"domain":[0,8],"nice":false},"axis":{"values":[1.5,3,4,5,6,7],"tickCount":20,"labelOverlap":false,"labelExpr":"datum.value==1.5?'Avg':'S'+(datum.value-2)","tickSize":-2,"labelPadding":12,"labelFontSize":12.8}},"y":{"field":"v","type":"quantitative","title":"Aftereffect amplitude (norm.)","scale":{"domain":[0,0.4],"nice":false},"axis":{"values":[0,0.1,0.2,0.3,0.4],"tickCount":20,"labelOverlap":false,"labelExpr":"''+datum.value","tickSize":-4,"labelPadding":10,"titleX":-30,"labelFontSize":13,"titleFontSize":14.6}},"color":{"field":"series","type":"nominal","scale":{"domain":["blue","orange"],"range":["#0072BD","#D95319"]},"legend":null}}},
{"transform":[{"filter":"datum.subject!='Avg' && datum.series=='blue'"}],"mark":{"type":"bar","size":4.5,"xOffset":-2.07,"color":"#0072BD"},"encoding":{"x":{"field":"slot","type":"quantitative"},"y":{"field":"v","type":"quantitative"}}},
{"transform":[{"filter":"datum.subject!='Avg' && datum.series=='orange'"}],"mark":{"type":"bar","size":4.5,"xOffset":3.27,"color":"#D9470F"},"encoding":{"x":{"field":"slot","type":"quantitative"},"y":{"field":"v","type":"quantitative"}}},
{"transform":[{"filter":"datum.subject=='Avg'"}],"mark":{"type":"rule","color":"#333333","strokeWidth":1,"xOffset":0.6},"encoding":{"x":{"field":"slot","type":"quantitative"},"y":{"field":"lo","type":"quantitative"},"y2":{"field":"hi"}}},
{"transform":[{"filter":"datum.subject=='Avg'"}],"mark":{"type":"tick","color":"#333333","thickness":1,"size":9,"orient":"horizontal","xOffset":0.6},"encoding":{"x":{"field":"slot","type":"quantitative"},"y":{"field":"lo","type":"quantitative"}}},
{"transform":[{"filter":"datum.subject=='Avg'"}],"mark":{"type":"tick","color":"#333333","thickness":1,"size":9,"orient":"horizontal","xOffset":0.6},"encoding":{"x":{"field":"slot","type":"quantitative"},"y":{"field":"hi","type":"quantitative"}}}
]},
{"title":{"text":"C","dx":-48,"offset":17},"width":150,"height":197.5,"data":{"name":"C"},"layer":[
{"transform":[{"filter":"datum.subject=='Avg'"}],"mark":{"type":"bar","size":15,"xOffset":0.6},"encoding":{"x":{"field":"slot","type":"quantitative","title":null,"scale":{"domain":[0,8],"nice":false},"axis":{"values":[1.5,3,4,5,6,7],"tickCount":20,"labelOverlap":false,"labelExpr":"datum.value==1.5?'Avg':'S'+(datum.value-2)","tickSize":-2,"labelPadding":12,"labelFontSize":12.8}},"y":{"field":"v","type":"quantitative","title":"Aftereffect time constant (ms)","scale":{"domain":[0,200],"nice":false},"axis":{"values":[0,50,100,150,200],"tickCount":20,"labelOverlap":false,"labelExpr":"''+datum.value","tickSize":-4,"labelPadding":10,"titleX":-34,"labelFontSize":13,"titleFontSize":14.6}},"color":{"field":"series","type":"nominal","scale":{"domain":["blue","orange"],"range":["#0072BD","#D95319"]},"legend":null}}},
{"transform":[{"filter":"datum.subject!='Avg' && datum.series=='blue'"}],"mark":{"type":"bar","size":4.5,"xOffset":-2.07,"color":"#0072BD"},"encoding":{"x":{"field":"slot","type":"quantitative"},"y":{"field":"v","type":"quantitative"}}},
{"transform":[{"filter":"datum.subject!='Avg' && datum.series=='orange'"}],"mark":{"type":"bar","size":4.5,"xOffset":3.27,"color":"#D9470F"},"encoding":{"x":{"field":"slot","type":"quantitative"},"y":{"field":"v","type":"quantitative"}}},
{"transform":[{"filter":"datum.subject=='Avg'"}],"mark":{"type":"rule","color":"#333333","strokeWidth":1,"xOffset":0.6},"encoding":{"x":{"field":"slot","type":"quantitative"},"y":{"field":"lo","type":"quantitative"},"y2":{"field":"hi"}}},
{"transform":[{"filter":"datum.subject=='Avg'"}],"mark":{"type":"tick","color":"#333333","thickness":1,"size":9,"orient":"horizontal","xOffset":0.6},"encoding":{"x":{"field":"slot","type":"quantitative"},"y":{"field":"lo","type":"quantitative"}}},
{"transform":[{"filter":"datum.subject=='Avg'"}],"mark":{"type":"tick","color":"#333333","thickness":1,"size":9,"orient":"horizontal","xOffset":0.6},"encoding":{"x":{"field":"slot","type":"quantitative"},"y":{"field":"hi","type":"quantitative"}}}
]},
{"title":{"text":"D","dx":-55,"offset":8},"width":592,"height":197.5,"layer":[
{"data":{"values":[{"y":0}]},"mark":{"type":"rule","color":"#AAAAAA","strokeWidth":2.2,"strokeDash":[9,3,2,3]},"encoding":{"y":{"field":"y","type":"quantitative","title":"Normalized spv","scale":{"domain":[-1.2,1.5],"nice":false,"zero":false},"axis":{"values":[-1,-0.5,0,0.5,1,1.5],"tickCount":20,"labelOverlap":false,"labelExpr":"''+datum.value","tickSize":-5,"labelPadding":17,"titleX":-40}}}},
{"data":{"name":"D"},"mark":{"type":"area","color":"#0072BD","opacity":0.5},"encoding":{"x":{"field":"t","type":"quantitative","title":"Time (min)","scale":{"domain":[0,40],"nice":false},"axis":{"values":[0,5,10,15,20,25,30,35,40],"tickCount":20,"labelOverlap":false,"labelExpr":"''+datum.value","tickSize":-5,"labelPadding":20,"titleY":33,"titleFontSize":14}},"y":{"field":"bl","type":"quantitative"},"y2":{"field":"bh"}}},
{"data":{"name":"D"},"mark":{"type":"area","color":"#D95319","opacity":0.5},"encoding":{"x":{"field":"t","type":"quantitative"},"y":{"field":"rl","type":"quantitative"},"y2":{"field":"rh"}}},
{"data":{"name":"D"},"mark":{"type":"line","color":"#0068B8","strokeWidth":2.6},"encoding":{"x":{"field":"t","type":"quantitative"},"y":{"field":"b","type":"quantitative"}}},
{"data":{"name":"D"},"mark":{"type":"line","color":"#D9470F","strokeWidth":2.6},"encoding":{"x":{"field":"t","type":"quantitative"},"y":{"field":"r","type":"quantitative"}}},
{"data":{"values":[{"label":"INSIDE MAGNET","x":2,"x2":22,"y":1.468,"y2":1.25},{"label":"LIGHTS ON","x":3,"x2":21.5,"y":1.2,"y2":1.0}]},"mark":{"type":"rect"},"encoding":{"x":{"field":"x","type":"quantitative"},"x2":{"field":"x2"},"y":{"field":"y","type":"quantitative"},"y2":{"field":"y2"},"color":{"condition":{"test":"datum.label=='LIGHTS ON'","value":"#FFCC00"},"value":"#666666"}}},
{"data":{"values":[{"label":"INSIDE MAGNET","tx":2.2,"ty":1.36},{"label":"LIGHTS ON","tx":3.2,"ty":1.1}]},"mark":{"type":"text","align":"left","baseline":"middle","fontSize":13.3,"font":"Liberation Sans"},"encoding":{"x":{"field":"tx","type":"quantitative"},"y":{"field":"ty","type":"quantitative"},"text":{"field":"label"},"color":{"condition":{"test":"datum.label=='LIGHTS ON'","value":"#222222"},"value":"#FFFFFF"}}},
{"data":{"values":[{"x":32.73,"x2":36.53,"y":1.364,"y2":0.6}]},"mark":{"type":"rect","fill":"#FFFFFF","stroke":"#333333","strokeWidth":1.4},"encoding":{"x":{"field":"x","type":"quantitative"},"x2":{"field":"x2"},"y":{"field":"y","type":"quantitative"},"y2":{"field":"y2"}}},
{"data":{"values":[{"x":32.83,"x2":36.43,"y":0.98}]},"mark":{"type":"rule","color":"#222222","strokeWidth":1.3},"encoding":{"x":{"field":"x","type":"quantitative"},"x2":{"field":"x2"},"y":{"field":"y","type":"quantitative"}}},
{"data":{"values":[{"x":34.63,"y":1.34,"y2":0.62}]},"mark":{"type":"rule","color":"#222222","strokeWidth":1.3},"encoding":{"x":{"field":"x","type":"quantitative"},"y":{"field":"y","type":"quantitative"},"y2":{"field":"y2"}}}
]},
{"title":{"text":"E","dx":-50,"offset":8},"width":150,"height":197.5,"data":{"name":"E"},"layer":[
{"transform":[{"filter":"datum.subject=='Avg'"}],"mark":{"type":"bar","size":15,"xOffset":0.6},"encoding":{"x":{"field":"slot","type":"quantitative","title":null,"scale":{"domain":[0,8],"nice":false},"axis":{"values":[1.5,3,4,5],"tickCount":20,"labelOverlap":false,"labelExpr":"datum.value==1.5?'Avg':datum.value==3?'S2':datum.value==4?'S4':'S5'","tickSize":-2,"labelPadding":12,"labelFontSize":12.8}},"y":{"field":"v","type":"quantitative","title":"Aftereffect amplitude (norm.)","scale":{"domain":[0,0.3],"nice":false},"axis":{"values":[0,0.05,0.1,0.15,0.2,0.25,0.3],"tickCount":20,"labelOverlap":false,"labelExpr":"''+datum.value","tickSize":-4,"labelPadding":10,"titleX":-36,"labelFontSize":13,"titleFontSize":14.6}},"color":{"field":"series","type":"nominal","scale":{"domain":["blue","orange"],"range":["#0072BD","#D95319"]},"legend":null}}},
{"transform":[{"filter":"datum.subject!='Avg' && datum.series=='blue'"}],"mark":{"type":"bar","size":4.5,"xOffset":-2.07,"color":"#0072BD"},"encoding":{"x":{"field":"slot","type":"quantitative"},"y":{"field":"v","type":"quantitative"}}},
{"transform":[{"filter":"datum.subject!='Avg' && datum.series=='orange'"}],"mark":{"type":"bar","size":4.5,"xOffset":3.27,"color":"#D9470F"},"encoding":{"x":{"field":"slot","type":"quantitative"},"y":{"field":"v","type":"quantitative"}}},
{"transform":[{"filter":"datum.subject=='Avg'"}],"mark":{"type":"rule","color":"#333333","strokeWidth":1,"xOffset":0.6},"encoding":{"x":{"field":"slot","type":"quantitative"},"y":{"field":"lo","type":"quantitative"},"y2":{"field":"hi"}}},
{"transform":[{"filter":"datum.subject=='Avg'"}],"mark":{"type":"tick","color":"#333333","thickness":1,"size":9,"orient":"horizontal","xOffset":0.6},"encoding":{"x":{"field":"slot","type":"quantitative"},"y":{"field":"lo","type":"quantitative"}}},
{"transform":[{"filter":"datum.subject=='Avg'"}],"mark":{"type":"tick","color":"#333333","thickness":1,"size":9,"orient":"horizontal","xOffset":0.6},"encoding":{"x":{"field":"slot","type":"quantitative"},"y":{"field":"hi","type":"quantitative"}}}
]},
{"title":{"text":"F","dx":-48,"offset":8},"width":150,"height":197.5,"data":{"name":"F"},"layer":[
{"transform":[{"filter":"datum.subject=='Avg'"}],"mark":{"type":"bar","size":15,"xOffset":0.6},"encoding":{"x":{"field":"slot","type":"quantitative","title":null,"scale":{"domain":[0,8],"nice":false},"axis":{"values":[1.5,3,4,5],"tickCount":20,"labelOverlap":false,"labelExpr":"datum.value==1.5?'Avg':datum.value==3?'S2':datum.value==4?'S4':'S5'","tickSize":-2,"labelPadding":12,"labelFontSize":12.8}},"y":{"field":"v","type":"quantitative","title":"Aftereffect time constant (ms)","scale":{"domain":[0,150],"nice":false},"axis":{"values":[0,50,100,150],"tickCount":20,"labelOverlap":false,"labelExpr":"''+datum.value","tickSize":-4,"labelPadding":10,"titleX":-34,"labelFontSize":13,"titleFontSize":14.6}},"color":{"field":"series","type":"nominal","scale":{"domain":["blue","orange"],"range":["#0072BD","#D95319"]},"legend":null}}},
{"transform":[{"filter":"datum.subject!='Avg' && datum.series=='blue'"}],"mark":{"type":"bar","size":4.5,"xOffset":-2.07,"color":"#0072BD"},"encoding":{"x":{"field":"slot","type":"quantitative"},"y":{"field":"v","type":"quantitative"}}},
{"transform":[{"filter":"datum.subject!='Avg' && datum.series=='orange'"}],"mark":{"type":"bar","size":4.5,"xOffset":3.27,"color":"#D9470F"},"encoding":{"x":{"field":"slot","type":"quantitative"},"y":{"field":"v","type":"quantitative"}}},
{"transform":[{"filter":"datum.subject=='Avg'"}],"mark":{"type":"rule","color":"#333333","strokeWidth":1,"xOffset":0.6},"encoding":{"x":{"field":"slot","type":"quantitative"},"y":{"field":"lo","type":"quantitative"},"y2":{"field":"hi"}}},
{"transform":[{"filter":"datum.subject=='Avg'"}],"mark":{"type":"tick","color":"#333333","thickness":1,"size":9,"orient":"horizontal","xOffset":0.6},"encoding":{"x":{"field":"slot","type":"quantitative"},"y":{"field":"lo","type":"quantitative"}}},
{"transform":[{"filter":"datum.subject=='Avg'"}],"mark":{"type":"tick","color":"#333333","thickness":1,"size":9,"orient":"horizontal","xOffset":0.6},"encoding":{"x":{"field":"slot","type":"quantitative"},"y":{"field":"hi","type":"quantitative"}}}
]},
{"title":{"text":"G","dx":-55,"offset":3},"width":592,"height":197.5,"layer":[
{"data":{"values":[{"y":0}]},"mark":{"type":"rule","color":"#AAAAAA","strokeWidth":2.2,"strokeDash":[9,3,2,3]},"encoding":{"y":{"field":"y","type":"quantitative","title":"Normalized spv","scale":{"domain":[-1.2,1.5],"nice":false,"zero":false},"axis":{"values":[-1,-0.5,0,0.5,1,1.5],"tickCount":20,"labelOverlap":false,"labelExpr":"''+datum.value","tickSize":-5,"labelPadding":17,"titleX":-40}}}},
{"data":{"name":"G"},"mark":{"type":"area","color":"#0072BD","opacity":0.5},"encoding":{"x":{"field":"t","type":"quantitative","title":"Time (min)","scale":{"domain":[0,12],"nice":false},"axis":{"values":[0,2,4,6,8,10,12],"tickCount":20,"labelOverlap":false,"labelExpr":"''+datum.value","tickSize":-5,"labelPadding":20,"titleY":33,"titleFontSize":14}},"y":{"field":"bl","type":"quantitative"},"y2":{"field":"bh"}}},
{"data":{"name":"G"},"mark":{"type":"area","color":"#D95319","opacity":0.5},"encoding":{"x":{"field":"t","type":"quantitative"},"y":{"field":"rl","type":"quantitative"},"y2":{"field":"rh"}}},
{"data":{"name":"G"},"mark":{"type":"line","color":"#0068B8","strokeWidth":2.6},"encoding":{"x":{"field":"t","type":"quantitative"},"y":{"field":"b","type":"quantitative"}}},
{"data":{"name":"G"},"mark":{"type":"line","color":"#D9470F","strokeWidth":2.6},"encoding":{"x":{"field":"t","type":"quantitative"},"y":{"field":"r","type":"quantitative"}}},
{"data":{"values":[{"label":"INSIDE MAGNET","x":2,"x2":7,"y":1.464,"y2":1.25},{"label":"LIGHTS ON","x":3,"x2":6.7,"y":1.195,"y2":1.0}]},"mark":{"type":"rect"},"encoding":{"x":{"field":"x","type":"quantitative"},"x2":{"field":"x2"},"y":{"field":"y","type":"quantitative"},"y2":{"field":"y2"},"color":{"condition":{"test":"datum.label=='LIGHTS ON'","value":"#FFCC00"},"value":"#666666"}}},
{"data":{"values":[{"label":"INSIDE MAGNET","tx":2.2,"ty":1.36},{"label":"LIGHTS ON","tx":3.2,"ty":1.1}]},"mark":{"type":"text","align":"left","baseline":"middle","fontSize":13.3,"font":"Liberation Sans"},"encoding":{"x":{"field":"tx","type":"quantitative"},"y":{"field":"ty","type":"quantitative"},"text":{"field":"label"},"color":{"condition":{"test":"datum.label=='LIGHTS ON'","value":"#222222"},"value":"#FFFFFF"}}},
{"data":{"values":[{"x":9.87,"x2":11.05,"y":1.414,"y2":0.577}]},"mark":{"type":"rect","color":"#333333"},"encoding":{"x":{"field":"x","type":"quantitative"},"x2":{"field":"x2"},"y":{"field":"y","type":"quantitative"},"y2":{"field":"y2"}}},
{"data":{"name":"dots"},"mark":{"type":"circle","size":100,"color":"#F5E80A","opacity":1},"encoding":{"x":{"field":"x","type":"quantitative"},"y":{"field":"y","type":"quantitative"}}}
]},
{"title":{"text":"H","dx":-50,"offset":3},"width":150,"height":197.5,"data":{"name":"H"},"layer":[
{"transform":[{"filter":"datum.subject=='Avg'"}],"mark":{"type":"bar","size":15,"xOffset":0.6},"encoding":{"x":{"field":"slot","type":"quantitative","title":null,"scale":{"domain":[0,8],"nice":false},"axis":{"values":[1.5,3,4,5,6],"tickCount":20,"labelOverlap":false,"labelExpr":"datum.value==1.5?'Avg':datum.value==3?'S1':datum.value==4?'S2':datum.value==5?'S4':'S5'","tickSize":-2,"labelPadding":12,"labelFontSize":12.8}},"y":{"field":"v","type":"quantitative","title":"Aftereffect amplitude (norm.)","scale":{"domain":[0,0.4],"nice":false},"axis":{"values":[0,0.1,0.2,0.3,0.4],"tickCount":20,"labelOverlap":false,"labelExpr":"''+datum.value","tickSize":-4,"labelPadding":10,"titleX":-30,"labelFontSize":13,"titleFontSize":14.6}},"color":{"field":"series","type":"nominal","scale":{"domain":["blue","orange"],"range":["#0072BD","#D95319"]},"legend":null}}},
{"transform":[{"filter":"datum.subject!='Avg' && datum.series=='blue'"}],"mark":{"type":"bar","size":4.5,"xOffset":-2.07,"color":"#0072BD"},"encoding":{"x":{"field":"slot","type":"quantitative"},"y":{"field":"v","type":"quantitative"}}},
{"transform":[{"filter":"datum.subject!='Avg' && datum.series=='orange'"}],"mark":{"type":"bar","size":4.5,"xOffset":3.27,"color":"#D9470F"},"encoding":{"x":{"field":"slot","type":"quantitative"},"y":{"field":"v","type":"quantitative"}}},
{"transform":[{"filter":"datum.subject=='Avg'"}],"mark":{"type":"rule","color":"#333333","strokeWidth":1,"xOffset":0.6},"encoding":{"x":{"field":"slot","type":"quantitative"},"y":{"field":"lo","type":"quantitative"},"y2":{"field":"hi"}}},
{"transform":[{"filter":"datum.subject=='Avg'"}],"mark":{"type":"tick","color":"#333333","thickness":1,"size":9,"orient":"horizontal","xOffset":0.6},"encoding":{"x":{"field":"slot","type":"quantitative"},"y":{"field":"lo","type":"quantitative"}}},
{"transform":[{"filter":"datum.subject=='Avg'"}],"mark":{"type":"tick","color":"#333333","thickness":1,"size":9,"orient":"horizontal","xOffset":0.6},"encoding":{"x":{"field":"slot","type":"quantitative"},"y":{"field":"hi","type":"quantitative"}}}
]},
{"title":{"text":"I","dx":-48,"offset":3},"width":150,"height":197.5,"data":{"name":"I"},"layer":[
{"transform":[{"filter":"datum.subject=='Avg'"}],"mark":{"type":"bar","size":15,"xOffset":0.6},"encoding":{"x":{"field":"slot","type":"quantitative","title":null,"scale":{"domain":[0,8],"nice":false},"axis":{"values":[1.5,3,4,5,6],"tickCount":20,"labelOverlap":false,"labelExpr":"datum.value==1.5?'Avg':datum.value==3?'S1':datum.value==4?'S2':datum.value==5?'S4':'S5'","tickSize":-2,"labelPadding":12,"labelFontSize":12.8}},"y":{"field":"v","type":"quantitative","title":"Aftereffect time constant (ms)","scale":{"domain":[0,200],"nice":false},"axis":{"values":[0,50,100,150,200],"tickCount":20,"labelOverlap":false,"labelExpr":"''+datum.value","tickSize":-4,"labelPadding":10,"titleX":-34,"labelFontSize":13,"titleFontSize":14.6}},"color":{"field":"series","type":"nominal","scale":{"domain":["blue","orange"],"range":["#0072BD","#D95319"]},"legend":null}}},
{"transform":[{"filter":"datum.subject!='Avg' && datum.series=='blue'"}],"mark":{"type":"bar","size":4.5,"xOffset":-2.07,"color":"#0072BD"},"encoding":{"x":{"field":"slot","type":"quantitative"},"y":{"field":"v","type":"quantitative"}}},
{"transform":[{"filter":"datum.subject!='Avg' && datum.series=='orange'"}],"mark":{"type":"bar","size":4.5,"xOffset":3.27,"color":"#D9470F"},"encoding":{"x":{"field":"slot","type":"quantitative"},"y":{"field":"v","type":"quantitative"}}},
{"transform":[{"filter":"datum.subject=='Avg'"}],"mark":{"type":"rule","color":"#333333","strokeWidth":1,"xOffset":0.6},"encoding":{"x":{"field":"slot","type":"quantitative"},"y":{"field":"lo","type":"quantitative"},"y2":{"field":"hi"}}},
{"transform":[{"filter":"datum.subject=='Avg'"}],"mark":{"type":"tick","color":"#333333","thickness":1,"size":9,"orient":"horizontal","xOffset":0.6},"encoding":{"x":{"field":"slot","type":"quantitative"},"y":{"field":"lo","type":"quantitative"}}},
{"transform":[{"filter":"datum.subject=='Avg'"}],"mark":{"type":"tick","color":"#333333","thickness":1,"size":9,"orient":"horizontal","xOffset":0.6},"encoding":{"x":{"field":"slot","type":"quantitative"},"y":{"field":"hi","type":"quantitative"}}}
]}
]}
